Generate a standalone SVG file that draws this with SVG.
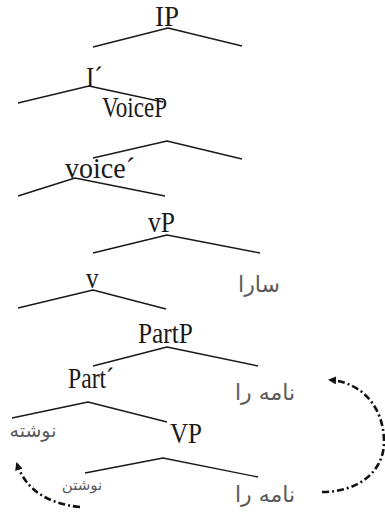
<svg xmlns="http://www.w3.org/2000/svg" width="385" height="515" viewBox="0 0 385 515">
<style>
.lt{font-family:"Liberation Serif","Times New Roman",serif;font-size:25px;fill:#1a1a1a}
.fa{font-family:"DejaVu Sans","Noto Sans",sans-serif;fill:#5a5a5a;text-anchor:middle}
.br{fill:none;stroke:#1a1a1a;stroke-width:1.4;stroke-linejoin:round}
.mv{fill:none;stroke:#111;stroke-width:2.6;stroke-dasharray:7 3 2 3}
</style>
<defs>
<marker id="ah" markerWidth="8" markerHeight="8" refX="6" refY="4" orient="auto" markerUnits="userSpaceOnUse">
<path d="M0,0 L8,4 L0,8 Z" fill="#111"/>
</marker>
</defs>
<rect width="385" height="515" fill="#fff"/>
<g id="connectors">
<polyline class="br" points="93,47 168,28 242,46"/>
<polyline class="br" points="18,103 89,86 163,102"/>
<polyline class="br" points="93,158 167,141 242,159"/>
<polyline class="br" points="18,196 75,178 165,196"/>
<polyline class="br" points="93,253 167,235 260,253"/>
<polyline class="br" points="18,308 93,290 166,309"/>
<polyline class="br" points="93,366 167,347 258,366"/>
<polyline class="br" points="12,418 88,402 167,422"/>
<polyline class="br" points="85,473 163,458 258,477"/>
<path class="mv" d="M80,507 Q30,502 17,464" marker-end="url(#ah)"/>
<path class="mv" d="M322,492 C360,492 385,470 384,440 C383,405 360,382 330,380" marker-end="url(#ah)"/>
</g>
<g id="IP"><text class="lt" transform="translate(155,26) scale(1,1.2)" textLength="24" lengthAdjust="spacingAndGlyphs">IP</text></g>
<g id="Ibar"><text class="lt" transform="translate(86,87) scale(1,1.2)">I´</text></g>
<g id="VoiceP"><text class="lt" transform="translate(102,117) scale(1,1.2)" textLength="65" lengthAdjust="spacingAndGlyphs">VoiceP</text></g>
<g id="voicebar"><text class="lt" transform="translate(65,178) scale(1,1.2)" textLength="70" lengthAdjust="spacingAndGlyphs">voice´</text></g>
<g id="vP"><text class="lt" transform="translate(148,232) scale(1,1.2)" textLength="27" lengthAdjust="spacingAndGlyphs">vP</text></g>
<g id="v"><text class="lt" transform="translate(86,288) scale(1,1.2)">v</text></g>
<g id="sara"><text class="fa" x="259" y="292" font-size="22">سارا</text></g>
<g id="PartP"><text class="lt" transform="translate(138,343) scale(1,1.2)" textLength="55" lengthAdjust="spacingAndGlyphs">PartP</text></g>
<g id="Partbar"><text class="lt" transform="translate(68,388) scale(1,1.2)" textLength="46" lengthAdjust="spacingAndGlyphs">Part´</text></g>
<g id="name-ra-1"><text class="fa" x="265" y="400" font-size="22">نامه را</text></g>
<g id="neveshte"><text class="fa" x="33" y="437" font-size="19">نوشته</text></g>
<g id="VP"><text class="lt" transform="translate(170,443) scale(1,1.2)" textLength="32" lengthAdjust="spacingAndGlyphs">VP</text></g>
<g id="neveshtan"><text class="fa" x="82" y="490" font-size="15">نوشتن</text></g>
<g id="name-ra-2"><text class="fa" x="265" y="502" font-size="22">نامه را</text></g>
</svg>
